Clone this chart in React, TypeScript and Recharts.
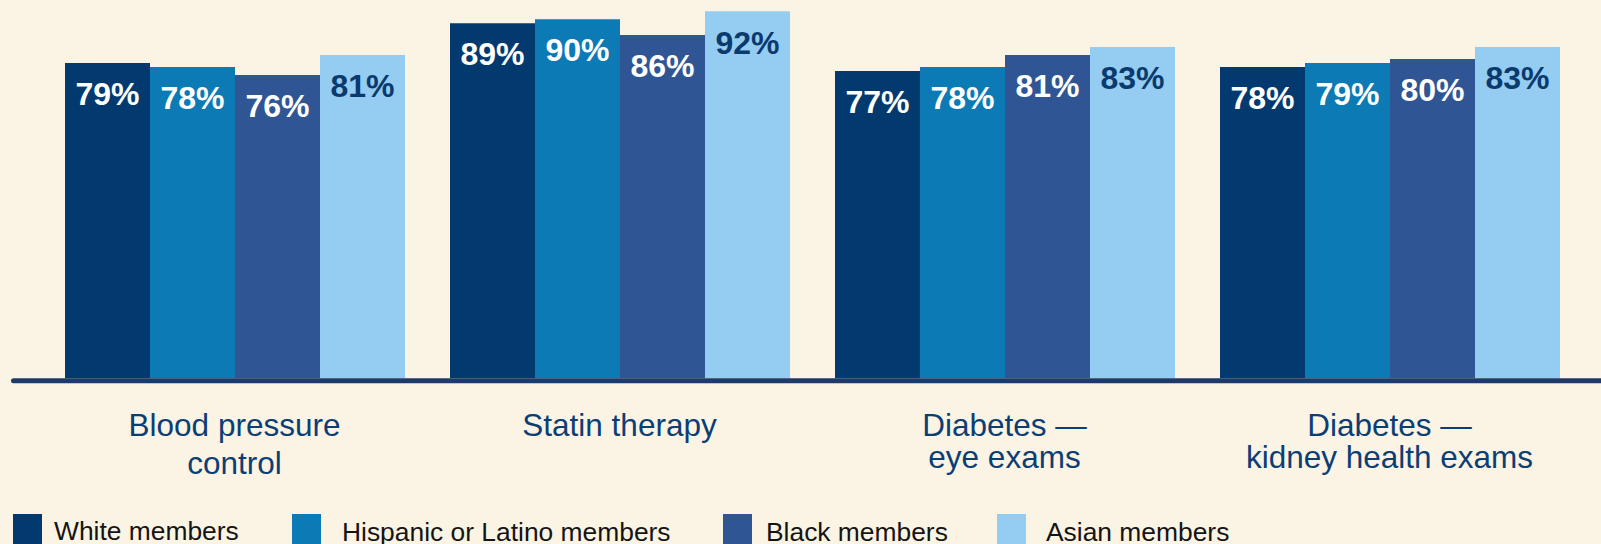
import React from 'react';
import { BarChart, Bar, XAxis, YAxis, LabelList, Legend } from 'recharts';

// ---- data ----
const categories = [
  'Blood pressure\ncontrol',
  'Statin therapy',
  'Diabetes —\neye exams',
  'Diabetes —\nkidney health exams',
];
const whiteMembers = [79, 89, 77, 78];
const hispanicMembers = [78, 90, 78, 79];
const blackMembers = [76, 86, 81, 80];
const asianMembers = [81, 92, 83, 83];
const seriesNames = ['White members', 'Hispanic or Latino members', 'Black members', 'Asian members'];

const data = categories.map((category, i) => ({
  category,
  white: whiteMembers[i],
  hispanic: hispanicMembers[i],
  black: blackMembers[i],
  asian: asianMembers[i],
}));

// ---- styles ----
const FONT = '"Liberation Sans", Arial, Helvetica, sans-serif';
const BG = '#fbf4e4';
const series = [
  { key: 'white', name: seriesNames[0], color: '#023a70', label: '#ffffff' },
  { key: 'hispanic', name: seriesNames[1], color: '#0c7ab5', label: '#ffffff' },
  { key: 'black', name: seriesNames[2], color: '#305595', label: '#ffffff' },
  { key: 'asian', name: seriesNames[3], color: '#94cdf1', label: '#0b3a6e' },
];
const tickLineGaps = [38.6, 32.6, 32.6, 32.6];
const legendLayout = [
  { sq: 13, tx: 54, base: 25.6 },
  { sq: 292, tx: 342, base: 27.2 },
  { sq: 723, tx: 766, base: 26.6 },
  { sq: 997, tx: 1046, base: 27.2 },
];

const CategoryTick = (props: any) => {
  const { x, y, payload } = props;
  const idx = props.index ?? payload?.index ?? 0;
  const lines = String(payload.value).split('\n');
  const gap = tickLineGaps[idx] ?? 32.6;
  return (
    <g>
      {lines.map((line: string, i: number) => (
        <text
          key={i}
          x={x}
          y={y + 54.9 + i * gap}
          textAnchor="middle"
          fontFamily={FONT}
          fontSize={31.5}
          fill="#0b3e74"
        >
          {line}
        </text>
      ))}
    </g>
  );
};

const LegendContent = (props: any) => {
  const payload: any[] = props.payload || [];
  return (
    <svg width={1601} height={30} style={{ display: 'block' }}>
      {series.map((s, i) => {
        const p = payload.find((q: any) => q.dataKey === s.key);
        const l = legendLayout[i];
        return (
          <g key={s.key}>
            <rect x={l.sq} y={0} width={29} height={30} fill={p?.color ?? s.color} />
            <text x={l.tx} y={l.base} fontFamily={FONT} fontSize={26.4} fill="#141414">
              {p?.value ?? s.name}
            </text>
          </g>
        );
      })}
    </svg>
  );
};

export default function App() {
  return (
    <div
      style={{
        position: 'absolute',
        left: 0,
        top: 0,
        width: 1601,
        height: 544,
        background: BG,
        overflow: 'hidden',
      }}
    >
      <BarChart
        width={1601}
        height={544}
        data={data}
        margin={{ top: 3.2, right: 0, bottom: 0, left: 13.5 }}
        barCategoryGap={23}
        barGap={0}
      >
        <YAxis hide type="number" domain={[-0.63, 94]} allowDataOverflow />
        {series.map((s) => (
          <Bar key={s.key} dataKey={s.key} name={s.name} fill={s.color} isAnimationActive={false}>
            <LabelList
              dataKey={s.key}
              position="insideTop"
              offset={19.6}
              fill={s.label}
              fontSize={32}
              fontWeight="bold"
              fontFamily={FONT}
              formatter={(v: any) => `${v}%`}
            />
          </Bar>
        ))}
        <XAxis
          dataKey="category"
          interval={0}
          tickLine={false}
          tickSize={0}
          tickMargin={0}
          height={133.2}
          padding={{ left: 28.5, right: 19 }}
          axisLine={{ stroke: '#1e3a6a', strokeWidth: 5, strokeLinecap: 'round' }}
          tick={<CategoryTick />}
        />
        <Legend
          verticalAlign="bottom"
          align="left"
          content={<LegendContent />}
          wrapperStyle={{ left: 0, bottom: 0, width: 1601, height: 30 }}
        />
      </BarChart>
    </div>
  );
}
